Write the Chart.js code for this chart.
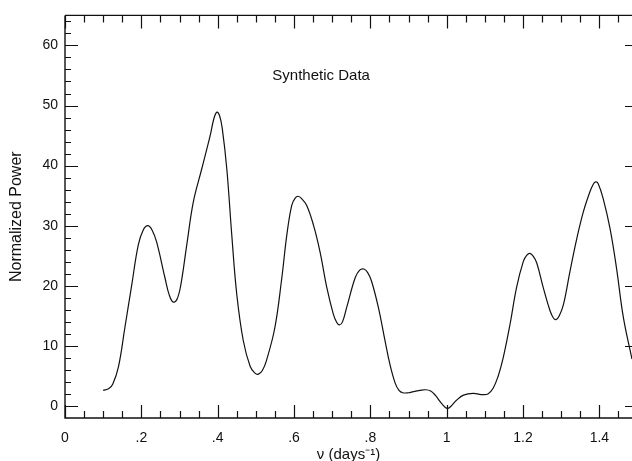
<!DOCTYPE html>
<html>
<head>
<meta charset="utf-8">
<script src="https://cdn.jsdelivr.net/npm/chart.js@4"></script>
<style>
html,body{margin:0;padding:0;background:#fff;}
#wrap{width:632px;height:461px;}
</style>
</head>
<body>
<div id="wrap"><canvas id="c" width="632" height="461"></canvas></div>
<script>
// Frequency (days^-1)
const frequency = [
  0.100,0.115,0.125,0.140,0.157,0.175,0.192,0.205,0.217,0.228,
  0.240,0.262,0.273,0.283,0.293,0.303,0.319,0.336,0.358,0.380,
  0.390,0.398,0.405,0.412,0.424,0.437,0.450,0.467,0.485,0.497,
  0.507,0.517,0.528,0.550,0.568,0.581,0.594,0.603,0.611,0.620,
  0.633,0.651,0.668,0.686,0.703,0.712,0.719,0.727,0.738,0.760,
  0.772,0.783,0.793,0.803,0.821,0.838,0.851,0.865,0.875,0.885,
  0.900,0.913,0.930,0.945,0.958,0.970,0.987,1.001,1.012,1.025,
  1.044,1.070,1.090,1.108,1.122,1.135,1.148,1.166,1.183,1.201,
  1.210,1.218,1.227,1.236,1.253,1.271,1.280,1.287,1.295,1.306,
  1.323,1.341,1.358,1.375,1.384,1.390,1.397,1.410,1.428,1.445,
  1.463,1.4855
];
// Normalized power
const power = [
  2.6,2.9,3.6,6.5,13.1,20.2,26.8,29.3,30.0,29.3,
  27.3,21.3,18.5,17.3,17.7,20.0,26.8,33.9,39.4,44.9,
  47.8,48.9,48.3,46.2,39.4,28.4,18.6,10.9,6.6,5.5,
  5.3,5.9,7.6,13.1,21.3,28.4,33.4,34.6,34.9,34.5,
  33.4,30.1,25.7,19.7,15.3,13.9,13.5,14.0,16.4,21.3,
  22.6,22.8,22.2,20.8,16.4,11.0,7.0,3.8,2.6,2.2,
  2.2,2.4,2.6,2.7,2.5,1.8,0.4,-0.4,0.0,0.9,
  1.8,2.1,1.9,2.0,3.0,5.0,8.0,13.6,19.7,24.1,
  25.1,25.4,24.9,23.8,19.7,15.8,14.6,14.4,15.0,16.9,
  22.4,27.9,32.3,35.6,36.9,37.3,37.0,34.5,29.5,22.9,
  14.7,7.8
];
const xTickValues = [0,0.2,0.4,0.6,0.8,1.0,1.2,1.4];
const xTickLabels = ['0','.2','.4','.6','.8','1','1.2','1.4'];
const yTickValues = [0,10,20,30,40,50,60];
const yTickLabels = ['0','10','20','30','40','50','60'];
const xMinorStep = 0.05;
const yMinorStep = 2;
const annotationText = 'Synthetic Data';
const annotationPos = {x:0.671, y:55};

const FONT = "'Liberation Sans', Arial, Helvetica, sans-serif";
const INK = '#111';

const framePlugin = {
  id: 'frame',
  afterDatasetsDraw(chart) {
    const {ctx, chartArea, scales} = chart;
    const {left, right, top, bottom} = chartArea;
    const xs = scales.x, ys = scales.y;
    ctx.save();
    ctx.strokeStyle = INK;
    ctx.lineWidth = 1.4;
    ctx.beginPath();
    ctx.moveTo(left, top); ctx.lineTo(left, bottom); ctx.lineTo(right, bottom);
    ctx.moveTo(left, top); ctx.lineTo(right, top);
    ctx.stroke();
    ctx.lineWidth = 1.2;
    ctx.beginPath();
    const nx = Math.floor(xs.max / xMinorStep + 1e-6);
    for (let i = 0; i <= nx; i++) {
      const v = i * xMinorStep;
      const px = Math.round(xs.getPixelForValue(v)) + 0.5;
      const len = (i % 4 === 0) ? 13 : 7;
      ctx.moveTo(px, bottom); ctx.lineTo(px, bottom - len);
      ctx.moveTo(px, top); ctx.lineTo(px, top + len);
    }
    for (let v = 0; v <= ys.max; v += yMinorStep) {
      const py = Math.round(ys.getPixelForValue(v)) + 0.5;
      const major = v % 10 === 0;
      ctx.moveTo(left, py); ctx.lineTo(left + (major ? 13 : 6), py);
      if (major) { ctx.moveTo(right, py); ctx.lineTo(right - 7, py); }
    }
    ctx.stroke();
    ctx.fillStyle = INK;
    ctx.font = '15px ' + FONT;
    ctx.textAlign = 'center';
    ctx.textBaseline = 'middle';
    ctx.fillText(annotationText, xs.getPixelForValue(annotationPos.x), ys.getPixelForValue(annotationPos.y));
    ctx.restore();
  }
};

new Chart(document.getElementById('c'), {
  type: 'line',
  data: {
    datasets: [{
      data: frequency.map((f, i) => ({x: f, y: power[i]})),
      borderColor: INK,
      borderWidth: 1.2,
      pointRadius: 0,
      fill: false,
      tension: 0.4
    }]
  },
  options: {
    responsive: false,
    animation: false,
    devicePixelRatio: 1,
    layout: {padding: {top: 13, right: 0, left: 0, bottom: 0}},
    plugins: {legend: {display: false}, tooltip: {enabled: false}},
    scales: {
      x: {
        type: 'linear', min: 0, max: 1.4855, position: 'bottom',
        afterBuildTicks: s => { s.ticks = xTickValues.map(v => ({value: v})); },
        afterFit: s => { s.height = 43; },
        grid: {display: false, drawTicks: false}, border: {display: false},
        ticks: {
          color: INK, font: {family: FONT, size: 14}, padding: 12, maxRotation: 0, autoSkip: false,
          callback: (v) => { const i = xTickValues.findIndex(t => Math.abs(t - v) < 1e-6); return i >= 0 ? xTickLabels[i] : ''; }
        },
        title: {display: true, text: 'ν (days⁻¹)', color: INK, font: {family: FONT, size: 15}, padding: {top: 0, bottom: -3}}
      },
      y: {
        type: 'linear', min: -2, max: 65,
        afterBuildTicks: s => { s.ticks = yTickValues.map(v => ({value: v})); },
        afterFit: s => { s.width = 65; },
        grid: {display: false, drawTicks: false}, border: {display: false},
        ticks: {
          color: INK, font: {family: FONT, size: 14}, padding: 7,
          callback: (v) => { const i = yTickValues.indexOf(v); return i >= 0 ? yTickLabels[i] : ''; }
        },
        title: {display: true, text: 'Normalized Power', color: INK, font: {family: FONT, size: 16}, padding: {top: 7, bottom: 0}}
      }
    }
  },
  plugins: [framePlugin]
});
</script>
</body>
</html>
